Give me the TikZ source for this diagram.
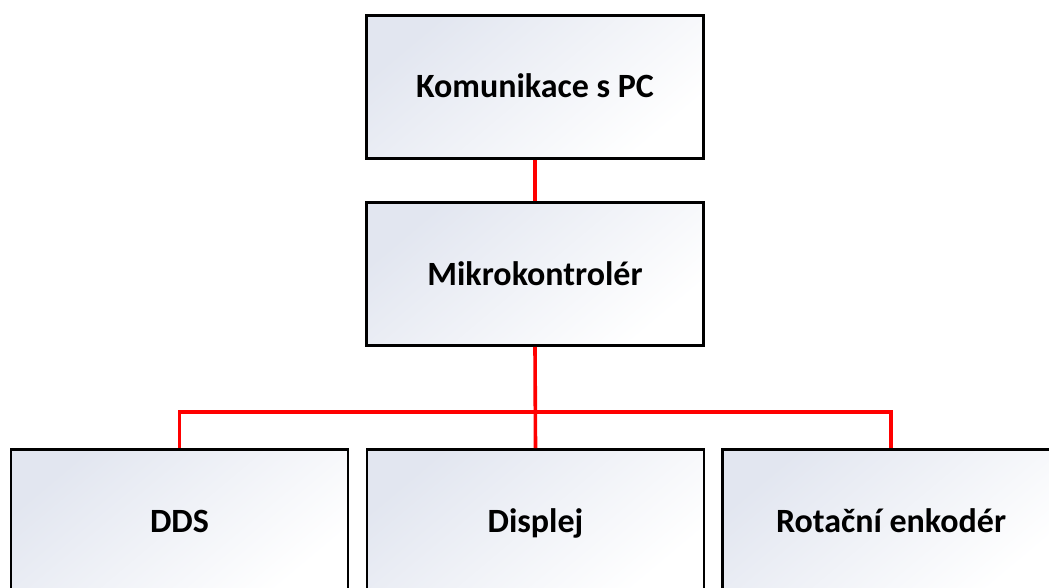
\documentclass[tikz,border=0pt]{standalone}
\usepackage{fontspec}
\setmainfont{Carlito}
\definecolor{boxshade}{HTML}{E2E6F0}
\definecolor{linkred}{HTML}{FF0000}
\tikzset{
  block/.style={rectangle, draw=black, line width=2.8pt, minimum width=337pt, minimum height=143pt,
    top color=boxshade, bottom color=white, shading angle=40, inner sep=0pt,
    text height=22pt, text depth=0pt,
    font=\fontsize{34}{40}\selectfont\bfseries, text=black},
  link/.style={draw=linkred, line width=3.6pt}
}
\begin{document}
\begin{tikzpicture}[x=1pt,y=-1pt]
\useasboundingbox (0,0) rectangle (1049,588);
\clip (0,0) rectangle (1049,588);
\node[block] (pc) at (535,87) {Komunikace s PC};
\node[block] (mcu) at (535,274) {Mikrokontrolér};
\node[block] (dds) at (179.5,521) {DDS};
\node[block] (disp) at (535.5,521) {Displej};
\node[block] (rot) at (891,521) {Rotační enkodér};
\coordinate (bar) at (535,412);
\draw[link] (pc.south) -- (mcu.north);
\draw[link] (mcu.south) -- (disp.north);
\draw[link] (dds.north) |- (bar) -| (rot.north);
\end{tikzpicture}
\end{document}
